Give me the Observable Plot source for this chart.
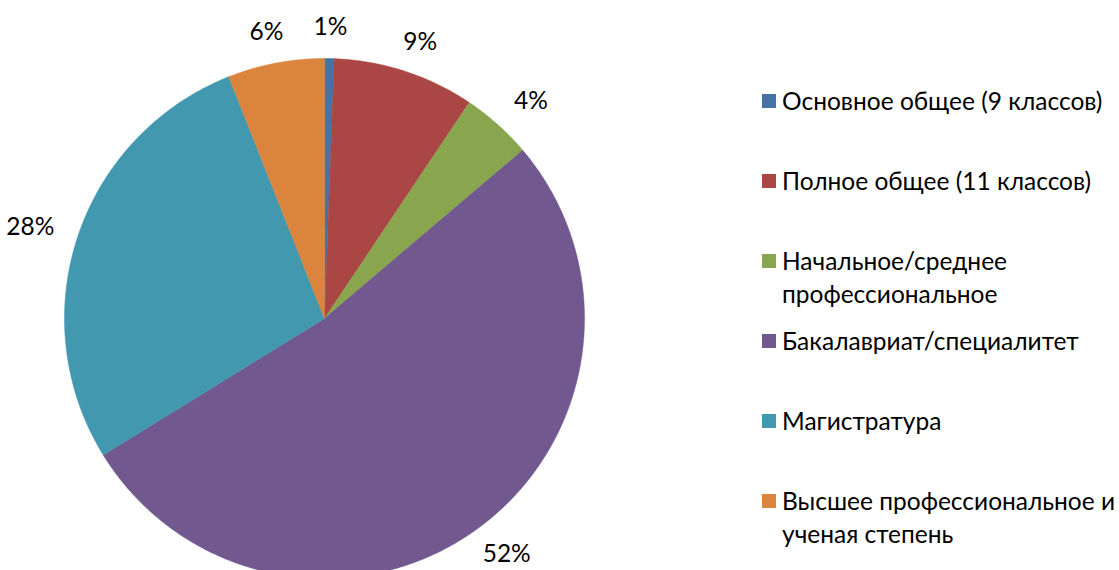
<!DOCTYPE html>
<html>
<head>
<meta charset="utf-8">
<script src="https://cdn.jsdelivr.net/npm/d3@7"></script>
<script src="https://cdn.jsdelivr.net/npm/@observablehq/plot@0.6"></script>
<style>
  html, body { margin: 0; padding: 0; background: #fff; }
  #wrap { position: relative; width: 1119px; height: 570px; overflow: hidden; font-family: Lato, "Open Sans", sans-serif; }
  #legend { position: absolute; left: 762px; top: 84px; width: 362px; }
  .item { display: flex; align-items: flex-start; height: 80px; font-size: 24.5px; line-height: 33px; color: #000; }
  .sw { width: 14px; height: 14px; margin-top: 10px; margin-right: 6px; flex: none; }
</style>
</head>
<body>
<div id="wrap"><div id="chart"></div><div id="legend"></div></div>
<script>
const categories = [
  "Основное общее (9 классов)",
  "Полное общее (11 классов)",
  "Начальное/среднее профессиональное",
  "Бакалавриат/специалитет",
  "Магистратура",
  "Высшее профессиональное и ученая степень"
];
const values = [0.6, 8.8, 4.4, 52.4, 27.8, 6.0];
const colors = ["#4572A7", "#AA4643", "#89A54E", "#71588F", "#4198AF", "#DB843D"];

const W = 1119, H = 570, R = 260, CX = 324, CY = 318;
const LX = 310 / R, LY = 291 / R; // label offsets (in radii)
const total = d3.sum(values);

// build slice polygons in unit-circle coordinates (clockwise from top)
const slicePts = [];
const labels = [];
let cum = 0;
values.forEach((v, i) => {
  const a0 = cum / total * 2 * Math.PI;
  cum += v;
  const a1 = cum / total * 2 * Math.PI;
  const steps = Math.max(2, Math.ceil((a1 - a0) / (Math.PI / 360)));
  slicePts.push({cat: categories[i], x: 0, y: 0});
  for (let k = 0; k <= steps; k++) {
    const a = a0 + (a1 - a0) * k / steps;
    slicePts.push({cat: categories[i], x: Math.sin(a), y: Math.cos(a)});
  }
  slicePts.push({cat: categories[i], x: 0, y: 0});
  const am = (a0 + a1) / 2;
  labels.push({cat: categories[i], x: LX * Math.sin(am), y: LY * Math.cos(am), text: Math.round(v / total * 100) + "%"});
});

const chart = Plot.plot({
  width: W,
  height: H,
  margin: 0,
  x: {domain: [-CX / R, (W - CX) / R], range: [0, W], axis: null},
  y: {domain: [(CY - H) / R, CY / R], range: [H, 0], axis: null},
  color: {domain: categories, range: colors},
  style: {fontFamily: "Lato, 'Open Sans', sans-serif", background: "#fff"},
  marks: [
    Plot.line(slicePts, {x: "x", y: "y", z: "cat", fill: "cat", stroke: "cat", strokeWidth: 0.5, curve: "linear"}),
    Plot.text(labels, {x: "x", y: "y", text: "text", fontSize: 24.5, fill: "#000", textAnchor: "middle"})
  ]
});
document.getElementById("chart").appendChild(chart);

const leg = d3.select("#legend");
categories.forEach((c, i) => {
  const it = leg.append("div").attr("class", "item");
  it.append("div").attr("class", "sw").style("background", colors[i]);
  it.append("div").text(c);
});
</script>
</body>
</html>
